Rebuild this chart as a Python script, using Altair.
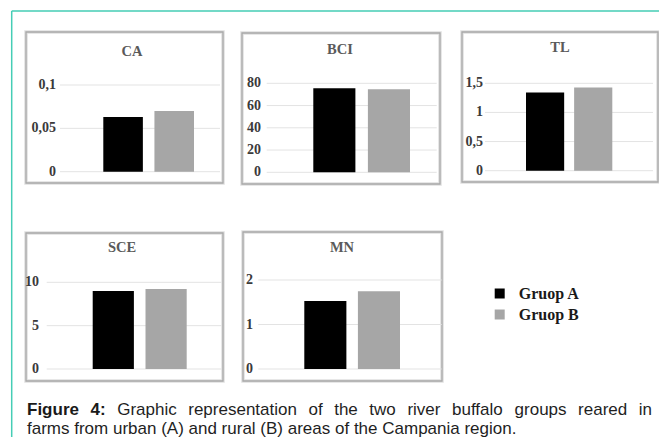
import altair as alt
import pandas as pd

# ---------------- data ----------------
groups = ["Gruop A", "Gruop B"]
panel_names = ["CA", "BCI", "TL", "SCE", "MN"]
ca_values = [0.063, 0.070]
bci_values = [75.5, 74.6]
tl_values = [1.34, 1.43]
sce_values = [9.0, 9.23]
mn_values = [1.53, 1.75]

ca_ticks = [0, 0.05, 0.1]
ca_tick_labels = ["0", "0,05", "0,1"]
bci_ticks = [0, 20, 40, 60, 80]
bci_tick_labels = ["0", "20", "40", "60", "80"]
tl_ticks = [0, 0.5, 1, 1.5]
tl_tick_labels = ["0", "0,5", "1", "1,5"]
sce_ticks = [0, 5, 10]
sce_tick_labels = ["0", "5", "10"]
mn_ticks = [0, 1, 2]
mn_tick_labels = ["0", "1", "2"]

caption_bold = "Figure 4:"
caption_line1 = "Graphic representation of the two river buffalo groups reared in"
caption_line2 = "farms from urban (A) and rural (B) areas of the Campania region."

bar_colors = ["#000000", "#a6a6a6"]

values = {"CA": ca_values, "BCI": bci_values, "TL": tl_values,
          "SCE": sce_values, "MN": mn_values}
ticks = {"CA": (ca_ticks, ca_tick_labels), "BCI": (bci_ticks, bci_tick_labels),
         "TL": (tl_ticks, tl_tick_labels), "SCE": (sce_ticks, sce_tick_labels),
         "MN": (mn_ticks, mn_tick_labels)}

# ---------------- layout (pixels in the chart) ----------------
W, H = 651, 429
layout = {
    "CA":  dict(box=(18, 24, 215, 175), y0=163.7, y1=77.0, bars=(95.3, 186.0), pad=0.226,
                grid=(52, 212), lab=48, title=(124, 44)),
    "BCI": dict(box=(234, 25, 432, 176), y0=164.3, y1=75.3, bars=(305.3, 402.0), pad=0.229,
                grid=(258.7, 428.7), lab=253, title=(332, 42)),
    "TL":  dict(box=(454, 24, 650, 174), y0=162.7, y1=75.3, bars=(518.0, 604.3), pad=0.207,
                grid=(477, 645), lab=475, title=(552, 40)),
    "SCE": dict(box=(18, 225, 215, 373), y0=361.0, y1=274.3, bars=(84.7, 178.7), pad=0.22,
                grid=(38.7, 213.7), lab=31, title=(114, 240)),
    "MN":  dict(box=(235, 224, 434, 373), y0=361.0, y1=272.0, bars=(296.3, 392.0), pad=0.215,
                grid=(250.3, 433.7), lab=245, title=(334, 240)),
}

SERIF = "Liberation Serif"
SANS = "Liberation Sans"
one = pd.DataFrame({"k": [0]})

layers = []

# teal frame (top and left)
teal = "#45cdb5"
layers.append(alt.Chart(one).mark_rule(color=teal, strokeWidth=1.5).encode(
    x=alt.value(3.7), x2=alt.value(W), y=alt.value(3)))
layers.append(alt.Chart(one).mark_rule(color=teal, strokeWidth=1.5).encode(
    x=alt.value(3.7), y=alt.value(3), y2=alt.value(H)))

color_scale = alt.Scale(domain=groups, range=bar_colors)

for i, name in enumerate(panel_names):
    L = layout[name]
    bx0, by0, bx1, by1 = L["box"]
    tv, tl = ticks[name]
    yscale = alt.Scale(domain=[0, tv[-1]], range=[L["y0"], L["y1"]], nice=False, zero=True)

    # panel frame (soft shadow + border)
    layers.append(alt.Chart(one).mark_rect(filled=False, stroke="#e0e0e0", strokeWidth=3.5).encode(
        x=alt.value(bx0), x2=alt.value(bx1), y=alt.value(by0), y2=alt.value(by1)))
    layers.append(alt.Chart(one).mark_rect(filled=False, stroke="#a8a8a8", strokeWidth=1.3).encode(
        x=alt.value(bx0), x2=alt.value(bx1), y=alt.value(by0), y2=alt.value(by1)))

    tdf = pd.DataFrame({"v": tv, "label": tl})
    # gridlines
    layers.append(alt.Chart(tdf).mark_rule(color="#e3e3e3", strokeWidth=1).encode(
        x=alt.value(L["grid"][0]), x2=alt.value(L["grid"][1]),
        y=alt.Y("v:Q", scale=yscale, axis=None)))
    # tick labels
    layers.append(alt.Chart(tdf).mark_text(
        align="right", baseline="middle", font=SERIF, fontWeight="bold",
        fontSize=14, color="#3a3a3a").encode(
        x=alt.value(L["lab"]),
        y=alt.Y("v:Q", scale=yscale, axis=None),
        text="label:N"))
    # bars
    bdf = pd.DataFrame({"group": groups, "value": values[name]})
    legend = None
    if i == 0:
        legend = alt.Legend(
            title=None, orient="none", legendX=483.7, legendY=277.5,
            symbolType="square", symbolSize=100, symbolStrokeWidth=0,
            labelFont=SERIF, labelFontWeight="bold", labelFontSize=16,
            labelColor="#1a1a1a", labelOffset=11, rowPadding=5, padding=0)
    layers.append(alt.Chart(bdf).mark_bar().encode(
        x=alt.X("group:N", scale=alt.Scale(domain=groups, range=list(L["bars"]),
                                            paddingInner=L["pad"], paddingOuter=0),
                axis=None),
        y=alt.Y("value:Q", scale=yscale, axis=None),
        color=alt.Color("group:N", scale=color_scale, legend=legend)))
    # panel title
    layers.append(alt.Chart(one).mark_text(
        text=name, align="center", baseline="middle", font=SERIF, fontWeight="bold",
        fontSize=14.5, color="#5a5a5a").encode(
        x=alt.value(L["title"][0]), y=alt.value(L["title"][1])))

# ---------------- caption (justified first line) ----------------
REG = {" ": 278, "a": 556, "b": 556, "c": 500, "d": 556, "e": 556, "f": 278, "g": 556,
       "h": 556, "i": 222, "l": 222, "m": 833, "n": 556, "o": 556, "p": 556, "r": 333,
       "s": 500, "t": 278, "u": 556, "v": 500, "w": 722, "A": 667, "B": 667, "C": 722,
       "G": 778, "(": 333, ")": 333, ".": 278}
BOLD = {"F": 611, "i": 278, "g": 611, "u": 611, "r": 389, "e": 556, "4": 556, ":": 333}
CAP_FS = 17


def width(word, table):
    return sum(table.get(ch, 556) for ch in word) * CAP_FS / 1000.0


x_start, x_end = 19.0, 644.0
words1 = [(w, True) for w in caption_bold.split()] + [(w, False) for w in caption_line1.split()]
widths1 = [width(w, BOLD if b else REG) for w, b in words1]
gap = (x_end - x_start - sum(widths1)) / (len(words1) - 1)
rows = []
x = x_start
for (w, b), wd in zip(words1, widths1):
    rows.append({"word": w, "x": x, "y": 402.0, "bold": b})
    x += wd + gap
rows.append({"word": caption_line2, "x": x_start, "y": 420.5, "bold": False})
cap = pd.DataFrame(rows)

layers.append(alt.Chart(cap).transform_filter("datum.bold").mark_text(
    align="left", baseline="middle", font=SANS, fontWeight="bold", fontSize=CAP_FS,
    color="#1a1a1a").encode(
    x=alt.X("x:Q", scale=None, axis=None), y=alt.Y("y:Q", scale=None, axis=None),
    text="word:N"))
layers.append(alt.Chart(cap).transform_filter("!datum.bold").mark_text(
    align="left", baseline="middle", font=SANS, fontSize=CAP_FS,
    color="#1f1f1f").encode(
    x=alt.X("x:Q", scale=None, axis=None), y=alt.Y("y:Q", scale=None, axis=None),
    text="word:N"))

chart = alt.layer(*layers).resolve_scale(
    x="independent", y="independent"
).properties(
    width=W, height=H, padding=0,
    autosize=alt.AutoSizeParams(type="none"),
    background="white",
).configure_view(stroke=None)

chart.save("out.html", embed_options={"renderer": "svg", "actions": False})
